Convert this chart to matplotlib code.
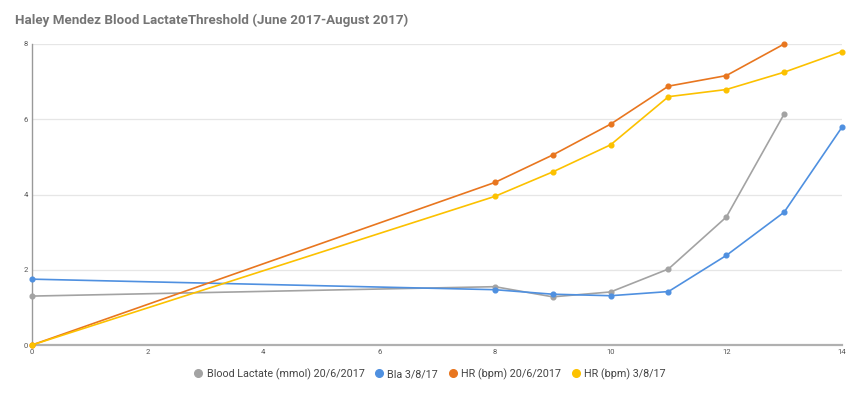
import matplotlib.pyplot as plt
from matplotlib.lines import Line2D

# data
x_gray = [0, 8, 9, 10, 11, 12, 13]
lactate_june = [1.30, 1.55, 1.28, 1.41, 2.02, 3.40, 6.14]

x_blue = [0, 8, 9, 10, 11, 12, 13, 14]
lactate_aug = [1.75, 1.47, 1.35, 1.31, 1.42, 2.38, 3.53, 5.79]

x_orange = [0, 8, 9, 10, 11, 12, 13]
hr_june = [0.0, 4.32, 5.05, 5.87, 6.88, 7.16, 8.00]

x_yellow = [0, 8, 9, 10, 11, 12, 13, 14]
hr_aug = [0.0, 3.95, 4.60, 5.32, 6.60, 6.79, 7.25, 7.80]

labels = ["Blood Lactate (mmol) 20/6/2017", "Bla 3/8/17",
          "HR (bpm) 20/6/2017", "HR (bpm) 3/8/17"]
colors = ["#a3a3a3", "#4f90e0", "#e8761f", "#fcc100"]

plt.rcParams['font.family'] = ['Roboto', 'DejaVu Sans']

fig = plt.figure(figsize=(8.59, 3.95), dpi=100)
ax = fig.add_axes([32 / 859, 50 / 395, 810 / 859, 301 / 395])

series = [(x_gray, lactate_june), (x_blue, lactate_aug),
          (x_orange, hr_june), (x_yellow, hr_aug)]
for (xs, ys), c, lab in zip(series, colors, labels):
    ax.plot(xs, ys, color=c, lw=1.2, marker='o', ms=3.4, label=lab,
            clip_on=False, zorder=3)

ax.set_xlim(0, 14)
ax.set_ylim(0, 8)
ax.set_xticks(range(0, 15, 2))
ax.set_yticks(range(0, 9, 2))
ax.tick_params(length=0, labelsize=5.5, labelcolor='#555555', pad=3)
ax.grid(axis='y', color='#e6e6e6', lw=0.9, zorder=0)
for s in ['top', 'right']:
    ax.spines[s].set_visible(False)
ax.spines['left'].set_color('#999999')
ax.spines['bottom'].set_color('#b0b0b0')
ax.spines['bottom'].set_linewidth(1.6)
ax.spines['left'].set_linewidth(1.0)

fig.text(15 / 859, 1 - 20 / 395, "Haley Mendez Blood LactateThreshold (June 2017-August 2017)",
         fontsize=9.6, fontweight='bold', color='#757575', va='center', ha='left')

handles = [Line2D([], [], ls='none', marker='o', ms=5.5, color=c) for c in colors]
fig.legend(handles, labels, loc='center', bbox_to_anchor=(430 / 859, 1 - 374 / 395),
           ncol=4, frameon=False, fontsize=7.75, handletextpad=0.45, columnspacing=1.0,
           labelcolor='#444444', handlelength=0.7)

fig.savefig('out.png', dpi=100)
